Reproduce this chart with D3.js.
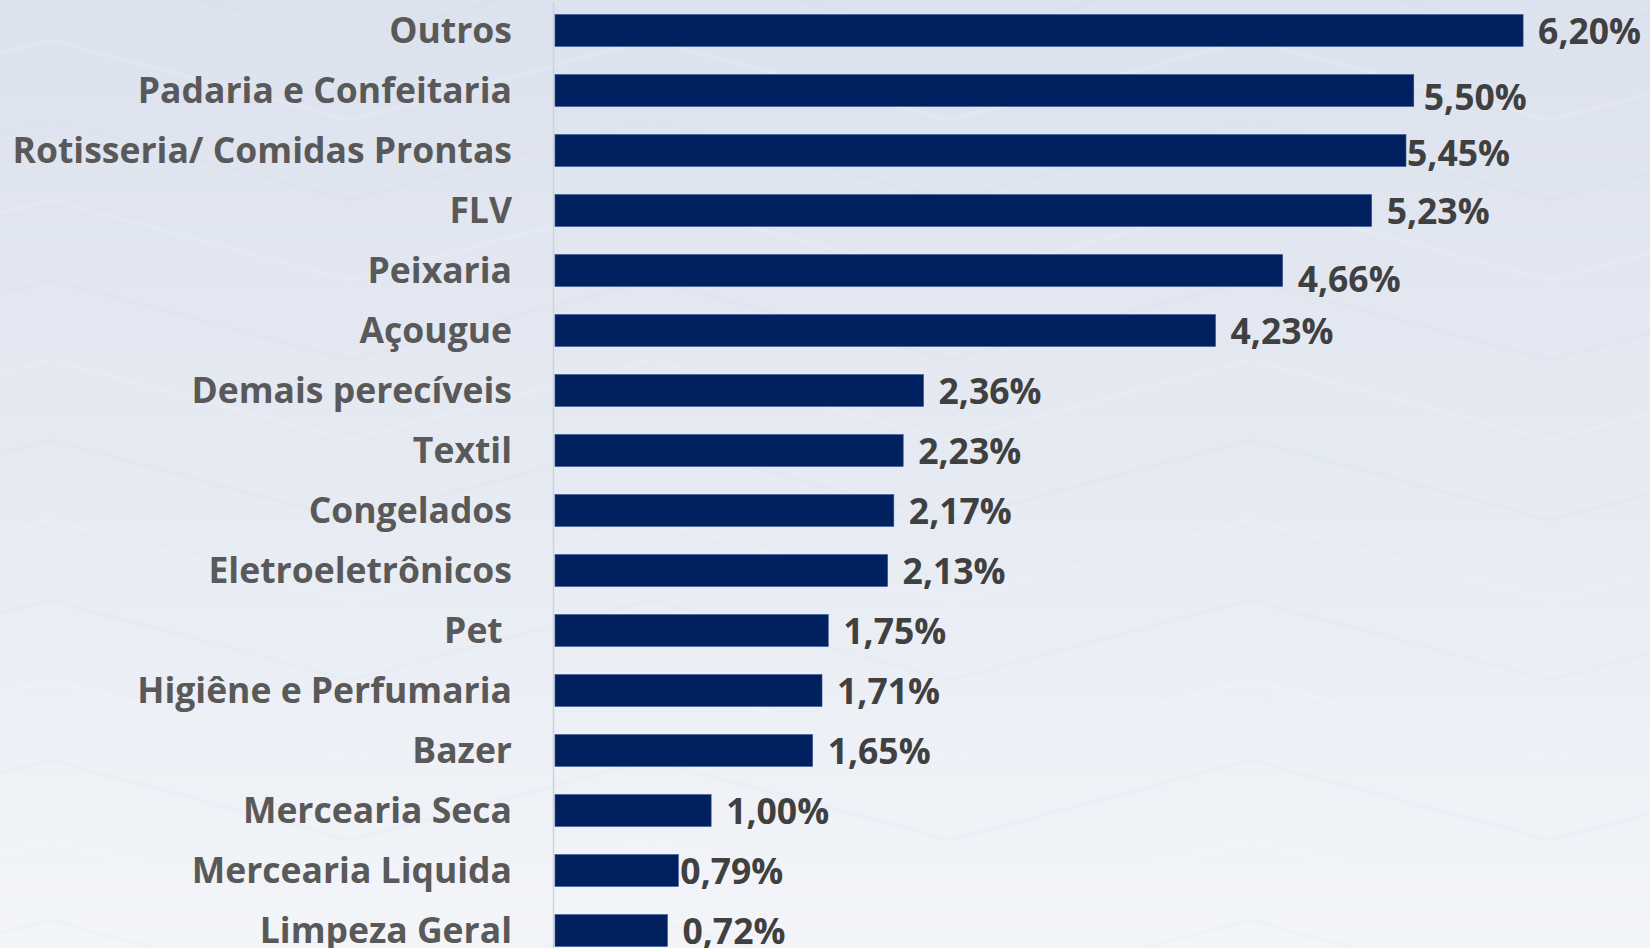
<!DOCTYPE html>
<html>
<head>
<meta charset="utf-8">
<script src="https://cdn.jsdelivr.net/npm/d3@7"></script>
<style>
  html, body { margin: 0; padding: 0; overflow: hidden; }
  #content { width: 1650px; height: 948px; }
  .axis text { font-family: "Open Sans", Lato, sans-serif; font-weight: 700; white-space: pre; }
</style>
</head>
<body>
<div id="content"></div>
<script>
// data, top to bottom as in the chart
var categories = ["Outros", "Padaria e Confeitaria", "Rotisseria/ Comidas Prontas", "FLV", "Peixaria",
  "Açougue", "Demais perecíveis", "Textil", "Congelados", "Eletroeletrônicos", "Pet ",
  "Higiêne e Perfumaria", "Bazer", "Mercearia Seca", "Mercearia Liquida", "Limpeza Geral"]
var values = [6.20, 5.50, 5.45, 5.23, 4.66, 4.23, 2.36, 2.23, 2.17, 2.13, 1.75, 1.71, 1.65, 1.00, 0.79, 0.72]
var valueLabels = ["6,20%", "5,50%", "5,45%", "5,23%", "4,66%", "4,23%", "2,36%", "2,23%", "2,17%",
  "2,13%", "1,75%", "1,71%", "1,65%", "1,00%", "0,79%", "0,72%"]

// hand-moved data labels in the original (dx, dy in px)
var labelNudge = {
  "Padaria e Confeitaria": [-5, 6],
  "Rotisseria/ Comidas Prontas": [-14, 2],
  "Peixaria": [0, 8],
  "Mercearia Liquida": [-13, 0]
}

var svgwidth = 1650
var svgheight = 948
var barColor = "#002060"
var fontSize = "35.5px"

var svg = d3.select("#content").append("svg")
  .attr("width", svgwidth)
  .attr("height", svgheight)

// background: soft blue-grey gradient with faint chevron waves
var defs = svg.append("defs")
var grad = defs.append("linearGradient").attr("id", "bg")
  .attr("x1", 0).attr("y1", 0).attr("x2", 0).attr("y2", 1)
grad.append("stop").attr("offset", "0%").attr("stop-color", "#dce2ee")
grad.append("stop").attr("offset", "55%").attr("stop-color", "#e7ebf3")
grad.append("stop").attr("offset", "100%").attr("stop-color", "#f3f5f9")
svg.append("rect").attr("width", svgwidth).attr("height", svgheight).attr("fill", "url(#bg)")

var waves = svg.append("g").attr("fill", "none")
for (var k = -2; k < 13; k++) {
  var pts = []
  for (var j = 0; j < 8; j++) {
    pts.push([-250 + j * 300, k * 80 + (j % 2 == 0 ? 40 : -40)])
  }
  waves.append("path")
    .attr("d", d3.line()(pts))
    .attr("stroke", k % 2 ? "#ffffff" : "#c9d1e0")
    .attr("stroke-opacity", k % 2 ? 0.12 : 0.07)
    .attr("stroke-width", 4)
}

var x = d3.scaleLinear()
  .domain([0, 7])
  .range([555, 1648])

var y = d3.scaleBand()
  .domain(categories)
  .range([0.5, 960.5])
  .paddingInner(0.47)
  .paddingOuter(0.235)

// category axis
var yAxis = svg.append("g")
  .attr("class", "axis")
  .attr("transform", "translate(553,0)")
  .call(d3.axisLeft(y).tickSize(0).tickPadding(41))
yAxis.select(".domain")
  .attr("d", "M0.5,2V" + svgheight)
  .attr("stroke", "#cdd2db")
  .attr("stroke-width", 1.5)
yAxis.selectAll("text")
  .attr("fill", "#595959")
  .attr("dy", "0.36em")
  .style("font-size", fontSize)

// bars
svg.selectAll(".dataBar")
  .data(values)
  .enter().append("rect")
  .attr("class", "dataBar")
  .attr("x", x(0))
  .attr("y", function(d, i) { return y(categories[i]) })
  .attr("width", function(d) { return x(d) - x(0) })
  .attr("height", y.bandwidth())
  .attr("fill", barColor)
  .style("stroke", "#2f4f8f")
  .style("stroke-width", 0.6)

// value labels
svg.selectAll(".valLabel")
  .data(values)
  .enter().append("text")
  .attr("class", "valLabel")
  .attr("x", function(d, i) {
    var n = labelNudge[categories[i]]
    return x(d) + 15 + (n ? n[0] : 0)
  })
  .attr("y", function(d, i) {
    var n = labelNudge[categories[i]]
    return y(categories[i]) + y.bandwidth() / 2 + (n ? n[1] : 0)
  })
  .attr("dy", "0.38em")
  .attr("text-anchor", "start")
  .attr("fill", "#404040")
  .style("font-family", "'Open Sans', Lato, sans-serif")
  .style("font-weight", 700)
  .style("font-size", fontSize)
  .text(function(d, i) { return valueLabels[i] })
</script>
</body>
</html>
